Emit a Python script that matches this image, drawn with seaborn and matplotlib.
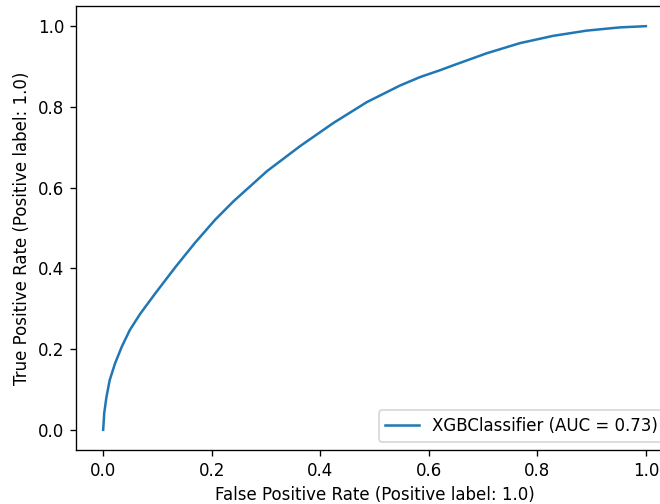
import matplotlib
matplotlib.use("Agg")
import matplotlib.pyplot as plt
import seaborn as sns
import pandas as pd

# ROC curve of the XGBoost model (false / true positive rates)
fpr = [0.0, 0.002, 0.006, 0.012, 0.022, 0.034, 0.049, 0.068, 0.096, 0.133,
       0.169, 0.206, 0.240, 0.302, 0.363, 0.424, 0.486, 0.547, 0.584, 0.621,
       0.645, 0.707, 0.768, 0.829, 0.891, 0.952, 1.0]
tpr = [0.0, 0.042, 0.081, 0.123, 0.165, 0.205, 0.247, 0.287, 0.338, 0.403,
       0.463, 0.520, 0.566, 0.641, 0.703, 0.760, 0.812, 0.853, 0.874, 0.891,
       0.903, 0.933, 0.958, 0.976, 0.989, 0.997, 1.0]
auc_value = 0.73
model_name = "XGBClassifier"

roc = pd.DataFrame({"fpr": fpr, "tpr": tpr})

fig = plt.figure(figsize=(5.5, 4.2), dpi=120)
ax = fig.add_axes([0.1152, 0.1071, 0.9045, 0.881])

sns.lineplot(data=roc, x="fpr", y="tpr", ax=ax, color="#1f77b4",
             linewidth=1.5, estimator=None, sort=False,
             label=f"{model_name} (AUC = {auc_value:.2f})")

ax.set_xlim(-0.05, 1.05)
ax.set_ylim(-0.05, 1.05)
ax.set_xticks([0.0, 0.2, 0.4, 0.6, 0.8, 1.0])
ax.set_yticks([0.0, 0.2, 0.4, 0.6, 0.8, 1.0])
ax.set_xlabel("False Positive Rate (Positive label: 1.0)")
ax.set_ylabel("True Positive Rate (Positive label: 1.0)")
ax.legend(loc="lower right")

fig.savefig("out.png", dpi=120)
